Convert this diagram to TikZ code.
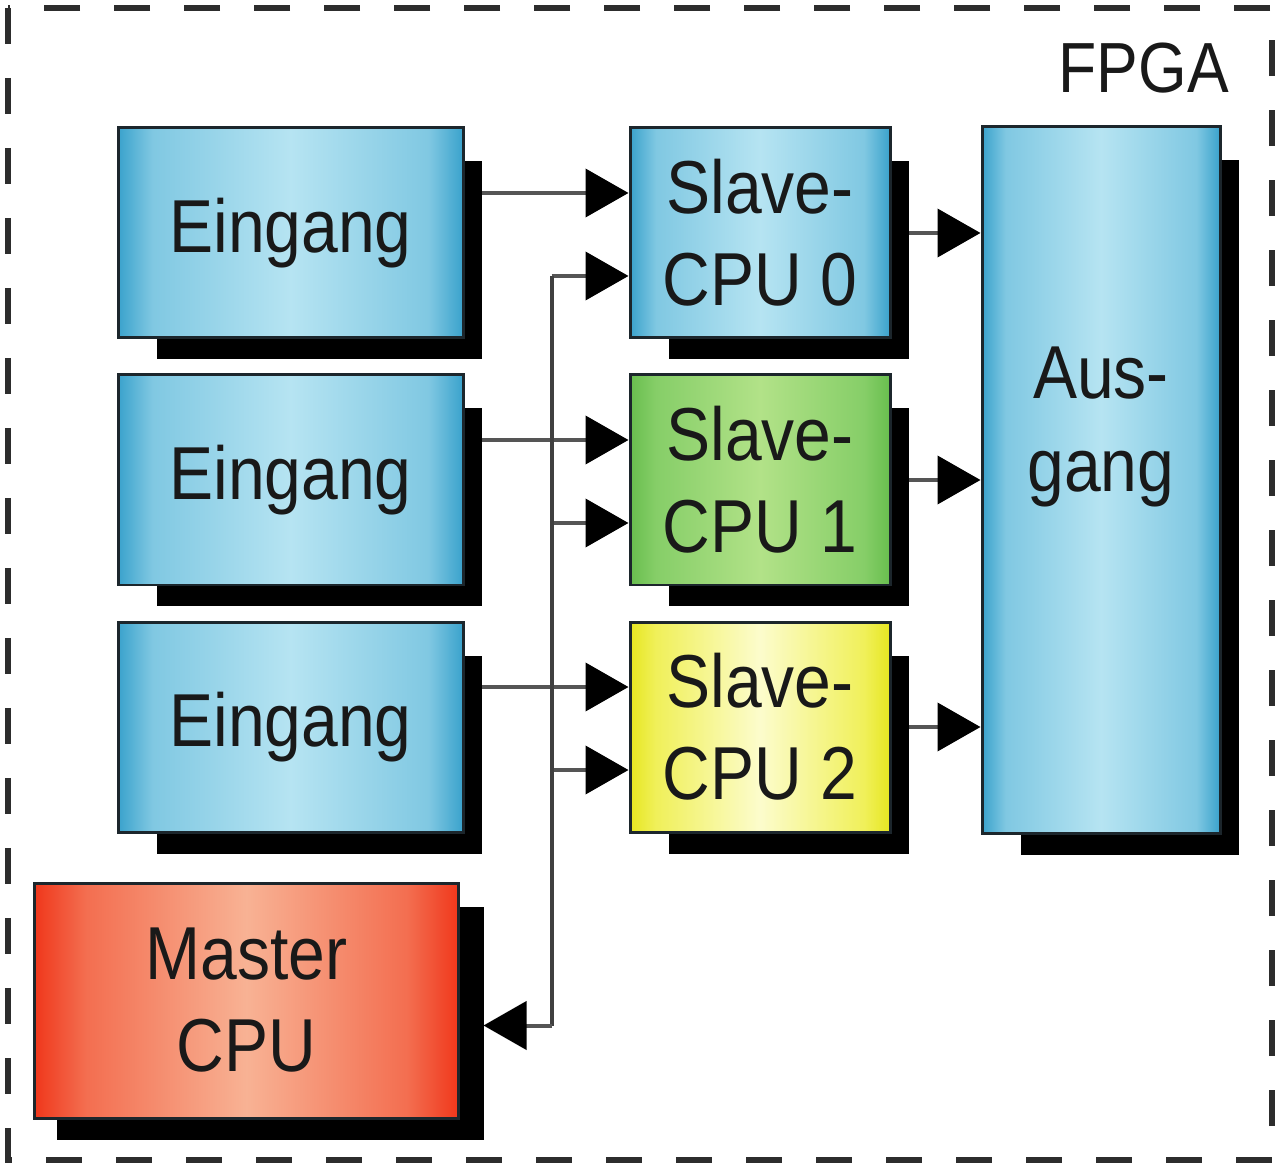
\documentclass[tikz,border=0pt]{standalone}
\usepackage{fontspec}
\setmainfont{Liberation Sans}[FakeStretch=0.88]
\usetikzlibrary{arrows.meta}
\pgfdeclarelayer{background}
\pgfsetlayers{background,main}

\definecolor{bluedge}{RGB}{58,162,204}
\definecolor{bluelight}{RGB}{128,200,226}
\definecolor{bluemid}{RGB}{182,228,242}
\definecolor{greenedge}{RGB}{104,190,78}
\definecolor{greenlight}{RGB}{134,206,104}
\definecolor{greenmid}{RGB}{178,226,136}
\definecolor{yellowedge}{RGB}{230,230,32}
\definecolor{yellowlight}{RGB}{240,240,90}
\definecolor{yellowmid}{RGB}{252,252,204}
\definecolor{rededge}{RGB}{240,56,28}
\definecolor{redlight}{RGB}{243,110,80}
\definecolor{redmid}{RGB}{248,178,148}
\definecolor{boxline}{RGB}{28,38,44}
\definecolor{linegray}{RGB}{85,85,85}
\definecolor{framegray}{RGB}{45,45,45}

\pgfdeclarehorizontalshading{bluefade}{100bp}{color(0bp)=(bluedge); color(25bp)=(bluedge);
  color(30bp)=(bluelight); color(50bp)=(bluemid); color(70bp)=(bluelight); color(75bp)=(bluedge); color(100bp)=(bluedge)}
\pgfdeclarehorizontalshading{greenfade}{100bp}{color(0bp)=(greenedge); color(25bp)=(greenedge);
  color(30bp)=(greenlight); color(50bp)=(greenmid); color(70bp)=(greenlight); color(75bp)=(greenedge); color(100bp)=(greenedge)}
\pgfdeclarehorizontalshading{yellowfade}{100bp}{color(0bp)=(yellowedge); color(25bp)=(yellowedge);
  color(30bp)=(yellowlight); color(50bp)=(yellowmid); color(70bp)=(yellowlight); color(75bp)=(yellowedge); color(100bp)=(yellowedge)}
\pgfdeclarehorizontalshading{redfade}{100bp}{color(0bp)=(rededge); color(25bp)=(rededge);
  color(31bp)=(redlight); color(50bp)=(redmid); color(69bp)=(redlight); color(75bp)=(rededge); color(100bp)=(rededge)}

\begin{document}
\begin{tikzpicture}[
  node distance = 4.94cm,
  box/.style={rectangle, draw=boxline, line width=0.06cm, align=center, text=black!90,
    font=\fontsize{42.7}{52.4}\selectfont},
  blueshade/.style={shade, shading=bluefade},
  greenshade/.style={shade, shading=greenfade},
  yellowshade/.style={shade, shading=yellowfade},
  redshade/.style={shade, shading=redfade},
  eing/.style={box, blueshade, minimum width=6.9cm, minimum height=4.2cm},
  slave/.style={box, minimum width=5.2cm, minimum height=4.2cm},
  arw/.style={-{Triangle[length=0.86cm,width=0.96cm,color=black]}, line width=0.08cm, draw=linegray},
  busline/.style={-, line width=0.08cm, draw=black!75},
  shadowfill/.style={fill=black},
  frame/.style={draw=framegray, line width=0.12cm, dash pattern=on 0.72cm off 0.68cm}
  ]

\useasboundingbox (0,0) rectangle (25.6,-23.42);

% fpga frame
\draw[frame] (0.16,-0.16) rectangle (25.44,-23.2);
\node[anchor=base east, text=black!90, font=\fontsize{40.4}{48}\selectfont] (fpga) at (24.7,-1.86) {FPGA};

% inputs
\node[eing] (e0) at (5.81,-4.66) {Eingang};
\node[eing, below of=e0] (e1) {Eingang};
\node[eing, below of=e1] (e2) {Eingang};

% slave cpus
\node[slave, blueshade, right of=e0, xshift=4.45cm] (s0) {Slave-\\CPU 0};
\node[slave, greenshade, right of=e1, xshift=4.45cm] (s1) {Slave-\\CPU 1};
\node[slave, yellowshade, right of=e2, xshift=4.45cm] (s2) {Slave-\\CPU 2};

% output
\node[box, blueshade, minimum width=4.76cm, minimum height=14.14cm, right of=s1, xshift=1.88cm,
  label={[name=austext, align=center, text=black!90, font=\fontsize{42.7}{52.4}\selectfont, yshift=1.06cm]center:{Aus-\\gang}}] (aus) {};

% master
\node[box, redshade, minimum width=8.46cm, minimum height=4.7cm, below of=e2, xshift=-0.88cm, yshift=-0.53cm] (mcpu) {Master\\CPU};

% bus
\coordinate (btop) at ([xshift=-1.54cm,yshift=-0.86cm]s0.west);
\coordinate (mport) at ([yshift=-0.5cm]mcpu.east);
\coordinate (bbot) at (btop |- mport);

\begin{pgfonlayer}{background}
\foreach \s in {0,1,2} {
  \coordinate (in\s) at ([yshift=-0.86cm]s\s.west);
  \draw[arw] ([yshift=0.8cm]e\s.east) -- ([yshift=0.8cm]s\s.west);
  \draw[arw] (btop |- in\s) -- (in\s);
  \draw[arw] (s\s.east) -- (s\s.east -| aus.west);
}
\draw[busline] (btop) -- (bbot);
\draw[arw, shorten >=0.48cm] (bbot) -- (mport);

% shadows
\foreach \n in {e0,e1,e2,s0,s1,s2,aus}
  \fill[shadowfill] ([xshift=0.8cm,yshift=-0.4cm]\n.south west) rectangle ([xshift=0.34cm,yshift=-0.7cm]\n.north east);
\fill[shadowfill] ([xshift=0.46cm,yshift=-0.4cm]mcpu.south west) rectangle ([xshift=0.48cm,yshift=-0.5cm]mcpu.north east);
\end{pgfonlayer}

\end{tikzpicture}
\end{document}
